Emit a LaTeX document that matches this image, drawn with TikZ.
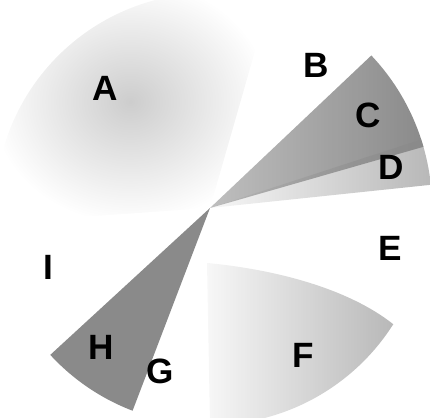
\documentclass[tikz,border=0pt]{standalone}
\usepackage{fontspec}
\setsansfont{Liberation Sans}
\usepackage{tikz}
\usetikzlibrary{fadings}
\usepackage{xcolor}
\definecolor{sectDark}{HTML}{8A8A8A}
\definecolor{sectMid}{HTML}{B0B0B0}
\definecolor{sectLight}{HTML}{C4C4C4}
\tikzfading[name=difuso, inner color=transparent!15, outer color=transparent!100]
\tikzfading[name=haciaDer, left color=transparent!90, right color=transparent!10]
\tikzfading[name=punta, left color=transparent!45, right color=transparent!0]

\begin{document}
\begin{tikzpicture}[x=0.25mm, y=0.25mm,
    zona/.style={font=\sffamily\bfseries\fontsize{25}{25}\selectfont, inner sep=0pt}]
        % Marco
        \useasboundingbox (-210,-209) rectangle (220,208);
        \clip (-210,-209) rectangle (220,208);
        % Zona A (nube clara, arriba-izquierda)
        \fill[sectLight, path fading=difuso] (0,0) -- (74:215)
          arc[start angle=74, end angle=184, radius=215] -- cycle;
        % Zona D (parte clara de la cuna)
        \fill[sectMid, path fading=haciaDer] (0,0) -- (6:222)
          arc[start angle=6, end angle=18, radius=222] -- cycle;
        % Cuna C (oscura, arriba-derecha)
        \fill[sectDark, path fading=punta] (0,0) -- (16:222)
          arc[start angle=16, end angle=43.4, radius=222] -- cycle;
        % Cuna H-G (oscura, abajo-izquierda)
        \fill[sectDark] (0,0) -- (222.6:217)
          arc[start angle=222.6, end angle=249.1, radius=217] -- cycle;
        % Zona F (clara, abajo-derecha)
        \fill[sectMid, path fading=haciaDer] (-3,-55)
          .. controls (70,-62) and (140,-82) .. (-32.4:217)
          arc[start angle=-32.4, end angle=-90, radius=217] -- cycle;
        % Letras
        \node[zona] (zA) at (-105,120) {A};
        \node[zona] (zB) at (106,143) {B};
        \node[zona] (zC) at (158,93) {C};
        \node[zona] (zD) at (181,41) {D};
        \node[zona] (zE) at (180,-40) {E};
        \node[zona] (zF) at (93,-147) {F};
        \node[zona] (zG) at (-50,-163) {G};
        \node[zona] (zH) at (-109,-139) {H};
        \node[zona] (zI) at (-162,-59) {I};
      \end{tikzpicture}
\end{document}
